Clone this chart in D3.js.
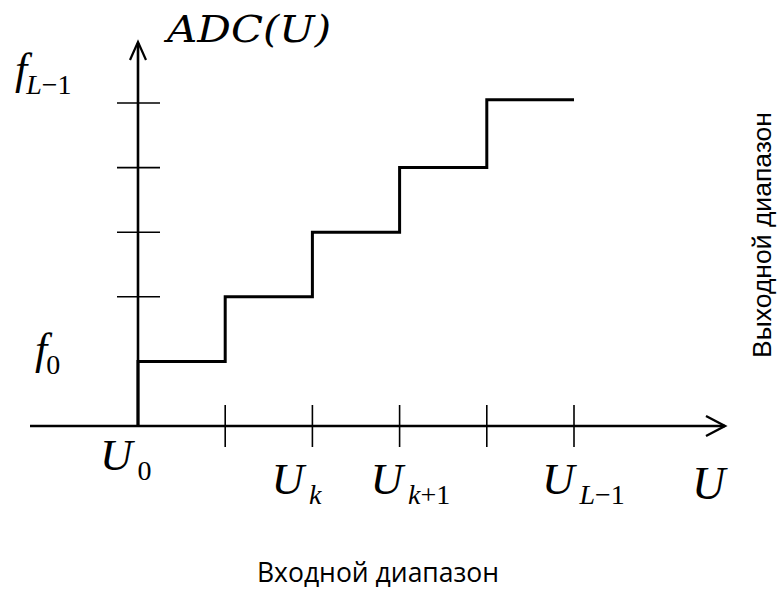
<!DOCTYPE html>
<html><head><meta charset="utf-8">
<script src="https://cdn.jsdelivr.net/npm/d3@7"></script>
<style>body{margin:0;background:#fff}svg{display:block}</style>
</head><body>
<svg id="c" width="779" height="589"></svg>
<script>
// data
const stepEdges = [0, 1, 2, 3, 4, 5];
const stepLevels = [1, 2, 3, 4, 5.05];
const xTickValues = [1, 2, 3, 4, 5];
const yTickValues = [2, 3, 4, 5];
const xLabels = [
  {v: 0, main: "U", sub: [["0", "normal"]]},
  {v: 2, main: "U", sub: [["k", "italic"]]},
  {v: 3, main: "U", sub: [["k", "italic"], ["+1", "normal"]]},
  {v: 5, main: "U", sub: [["L", "italic"], ["\u22121", "normal"]]}
];
const yLabels = [
  {v: 1, main: "f", sub: [["0", "normal"]]},
  {v: 5, main: "f", sub: [["L", "italic"], ["\u22121", "normal"]]}
];
const yTitle = "ADC(U)";
const xVar = "U";
const xTitle = "Входной диапазон";
const yRangeTitle = "Выходной диапазон";

// layout (pixel offsets of the labels)
const xLabelLayout = [{dx: -38, y: 470}, {dx: -41, y: 494}, {dx: -29, y: 494}, {dx: -32, y: 494}];
const yLabelLayout = [{x: 35, dy: 3, sdy: 10}, {x: 15, dy: -19, sdy: 10}];

const svg = d3.select("#c");
const x = d3.scaleLinear().domain([0, 5]).range([138, 574]);
const y = d3.scaleLinear().domain([0, 5]).range([426, 103]);
const serif = "'Liberation Serif','Times New Roman',serif";

// axes
const g = svg.append("g").attr("stroke", "#000").attr("fill", "none");
g.append("line").attr("x1", 30).attr("x2", 725).attr("y1", y(0)).attr("y2", y(0)).attr("stroke-width", 2.6);
g.append("path").attr("d", `M${706},${y(0)-10} L725,${y(0)} L${706},${y(0)+10}`).attr("stroke-width", 2.4);
g.append("line").attr("x1", x(0)).attr("x2", x(0)).attr("y1", y(0)).attr("y2", 43).attr("stroke-width", 2.6);
g.append("path").attr("d", `M${x(0)-8},60 L${x(0)},42 L${x(0)+8},60`).attr("stroke-width", 2.2);

// ticks
g.selectAll(".xt").data(xTickValues).join("line")
  .attr("x1", d => x(d)).attr("x2", d => x(d)).attr("y1", y(0) - 21).attr("y2", y(0) + 21).attr("stroke-width", 1.6);
g.selectAll(".yt").data(yTickValues).join("line")
  .attr("x1", x(0) - 21).attr("x2", x(0) + 22).attr("y1", d => y(d)).attr("y2", d => y(d)).attr("stroke-width", 1.6);

// step function
const pts = [[0, 0]];
stepLevels.forEach((lv, i) => { pts.push([stepEdges[i], lv]); pts.push([stepEdges[i + 1], lv]); });
svg.append("path")
  .attr("d", d3.line().x(d => x(d[0])).y(d => y(d[1]))(pts))
  .attr("fill", "none").attr("stroke", "#000").attr("stroke-width", 3).attr("stroke-linejoin", "miter");

function label(sel, d, px, py, fs, sfs, dx, dy) {
  const t = sel.append("text").attr("x", px).attr("y", py)
    .attr("font-family", serif).attr("font-size", fs).attr("fill", "#000");
  t.append("tspan").attr("font-style", "italic").text(d.main);
  d.sub.forEach((s, i) => {
    const ts = t.append("tspan").attr("font-size", sfs).attr("font-style", s[1]).text(s[0]);
    if (i === 0) ts.attr("dx", dx).attr("dy", dy);
  });
  return t;
}
xLabels.forEach((d, i) => label(svg, d, x(d.v) + xLabelLayout[i].dx, xLabelLayout[i].y, 45, 28, 5, 10));
yLabels.forEach((d, i) => label(svg, d, yLabelLayout[i].x, y(d.v) + yLabelLayout[i].dy, 44, 28, -1, yLabelLayout[i].sdy));

svg.append("text").attr("x", 692).attr("y", 499).attr("font-family", serif)
  .attr("font-style", "italic").attr("font-size", 46).text(xVar);

svg.append("text").attr("x", 167).attr("y", 42).attr("font-family", "'DejaVu Serif',serif")
  .attr("font-style", "italic").attr("font-size", 37).attr("textLength", 164).attr("lengthAdjust", "spacingAndGlyphs").text(yTitle);

svg.append("text").attr("x", 378).attr("y", 582).attr("text-anchor", "middle")
  .attr("font-family", "'Open Sans',sans-serif").attr("font-size", 26.5).text(xTitle);

svg.append("text").attr("transform", "translate(771,235) rotate(-90)").attr("text-anchor", "middle")
  .attr("font-family", "'Liberation Sans',Arial,sans-serif").attr("font-size", 26.5).text(yRangeTitle);
</script>
</body></html>
